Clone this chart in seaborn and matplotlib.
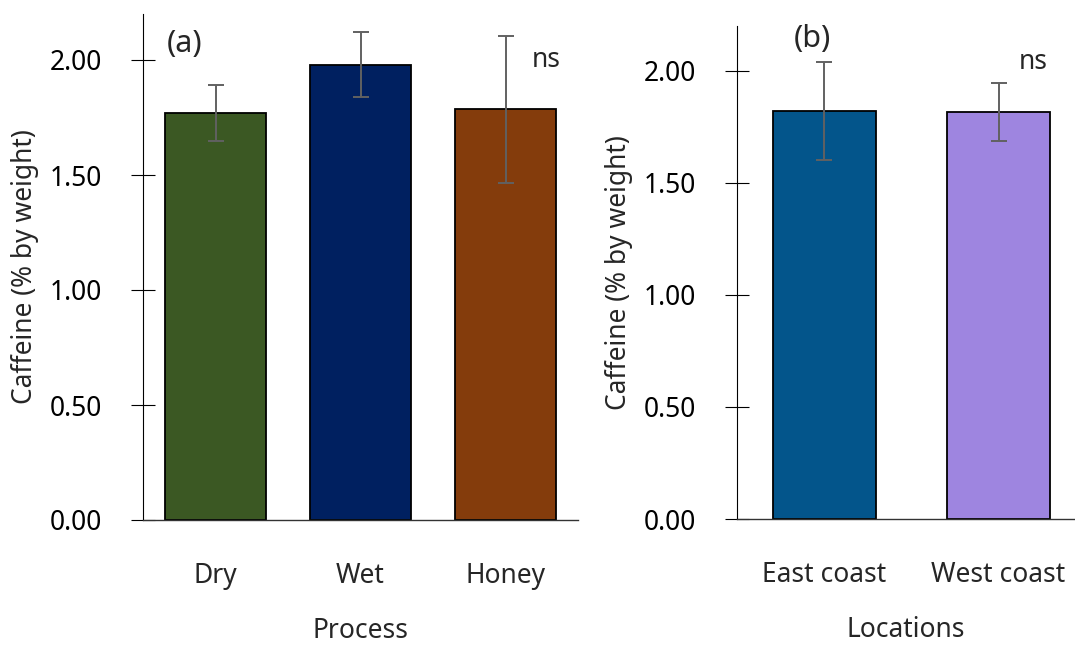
import pandas as pd
import matplotlib.pyplot as plt
import seaborn as sns

# panel (a): caffeine by process
process = ['Dry', 'Wet', 'Honey']
process_mean = [1.77, 1.98, 1.785]
process_err = [0.12, 0.14, 0.32]
process_colors = ['#3b5823', '#002060', '#843c0c']

# panel (b): caffeine by location
locations = ['East coast', 'West coast']
location_mean = [1.82, 1.815]
location_err = [0.22, 0.13]
location_colors = ['#03558b', '#9e85e0']

yticks = [0.0, 0.5, 1.0, 1.5, 2.0]

sns.set_style('white')
plt.rcParams['font.family'] = ['Noto Sans', 'DejaVu Sans']
plt.rcParams['font.size'] = 19

fig = plt.figure(figsize=(10.75, 6.45), dpi=100)
ax1 = fig.add_axes([143 / 1075, 125 / 645, 435 / 1075, 506 / 645])
ax2 = fig.add_axes([737 / 1075, 126 / 645, 338 / 1075, 493 / 645])


def draw_panel(ax, cats, means, errs, colors, width, xlabel, tag, tag_xy, ns_xy, xmax):
    df = pd.DataFrame({'cat': cats, 'val': means})
    sns.barplot(data=df, x='cat', y='val', hue='cat', palette=colors, width=width,
                saturation=1, errorbar=None, edgecolor='black', linewidth=1.3,
                legend=False, ax=ax)
    ax.errorbar(range(len(cats)), means, yerr=errs, fmt='none', ecolor='#616161',
                elinewidth=1.4, capsize=6, capthick=1.4)
    ax.set_xlim(-0.5, xmax)
    ax.set_ylim(0, 2.2)
    ax.set_yticks(yticks)
    ax.set_yticklabels([f'{v:.2f}' for v in yticks])
    ax.tick_params(axis='y', left=True, direction='inout', length=17, width=0.8,
                   pad=21, colors='black', labelsize=19)
    ax.tick_params(axis='x', bottom=False, length=0, pad=30, labelsize=19)
    ax.set_xlabel(xlabel, fontsize=19, labelpad=20)
    ax.set_ylabel('Caffeine (% by weight)', fontsize=19, labelpad=8)
    for s in ['top', 'right']:
        ax.spines[s].set_visible(False)
    ax.spines['left'].set_linewidth(0.8)
    ax.spines['bottom'].set_linewidth(1.0)
    ax.spines['left'].set_color('black')
    ax.spines['bottom'].set_color('#333333')
    ax.text(tag_xy[0], tag_xy[1], tag, ha='center', va='center', fontsize=22)
    ax.text(ns_xy[0], ns_xy[1], 'ns', ha='center', va='center', fontsize=19)


draw_panel(ax1, process, process_mean, process_err, process_colors, 0.7,
           'Process', '(a)', (-0.21, 2.07), (2.28, 2.0), 2.5)
draw_panel(ax2, locations, location_mean, location_err, location_colors, 0.59,
           'Locations', '(b)', (-0.07, 2.14), (1.2, 2.04), 1.438)

fig.savefig('out.png', dpi=100)
